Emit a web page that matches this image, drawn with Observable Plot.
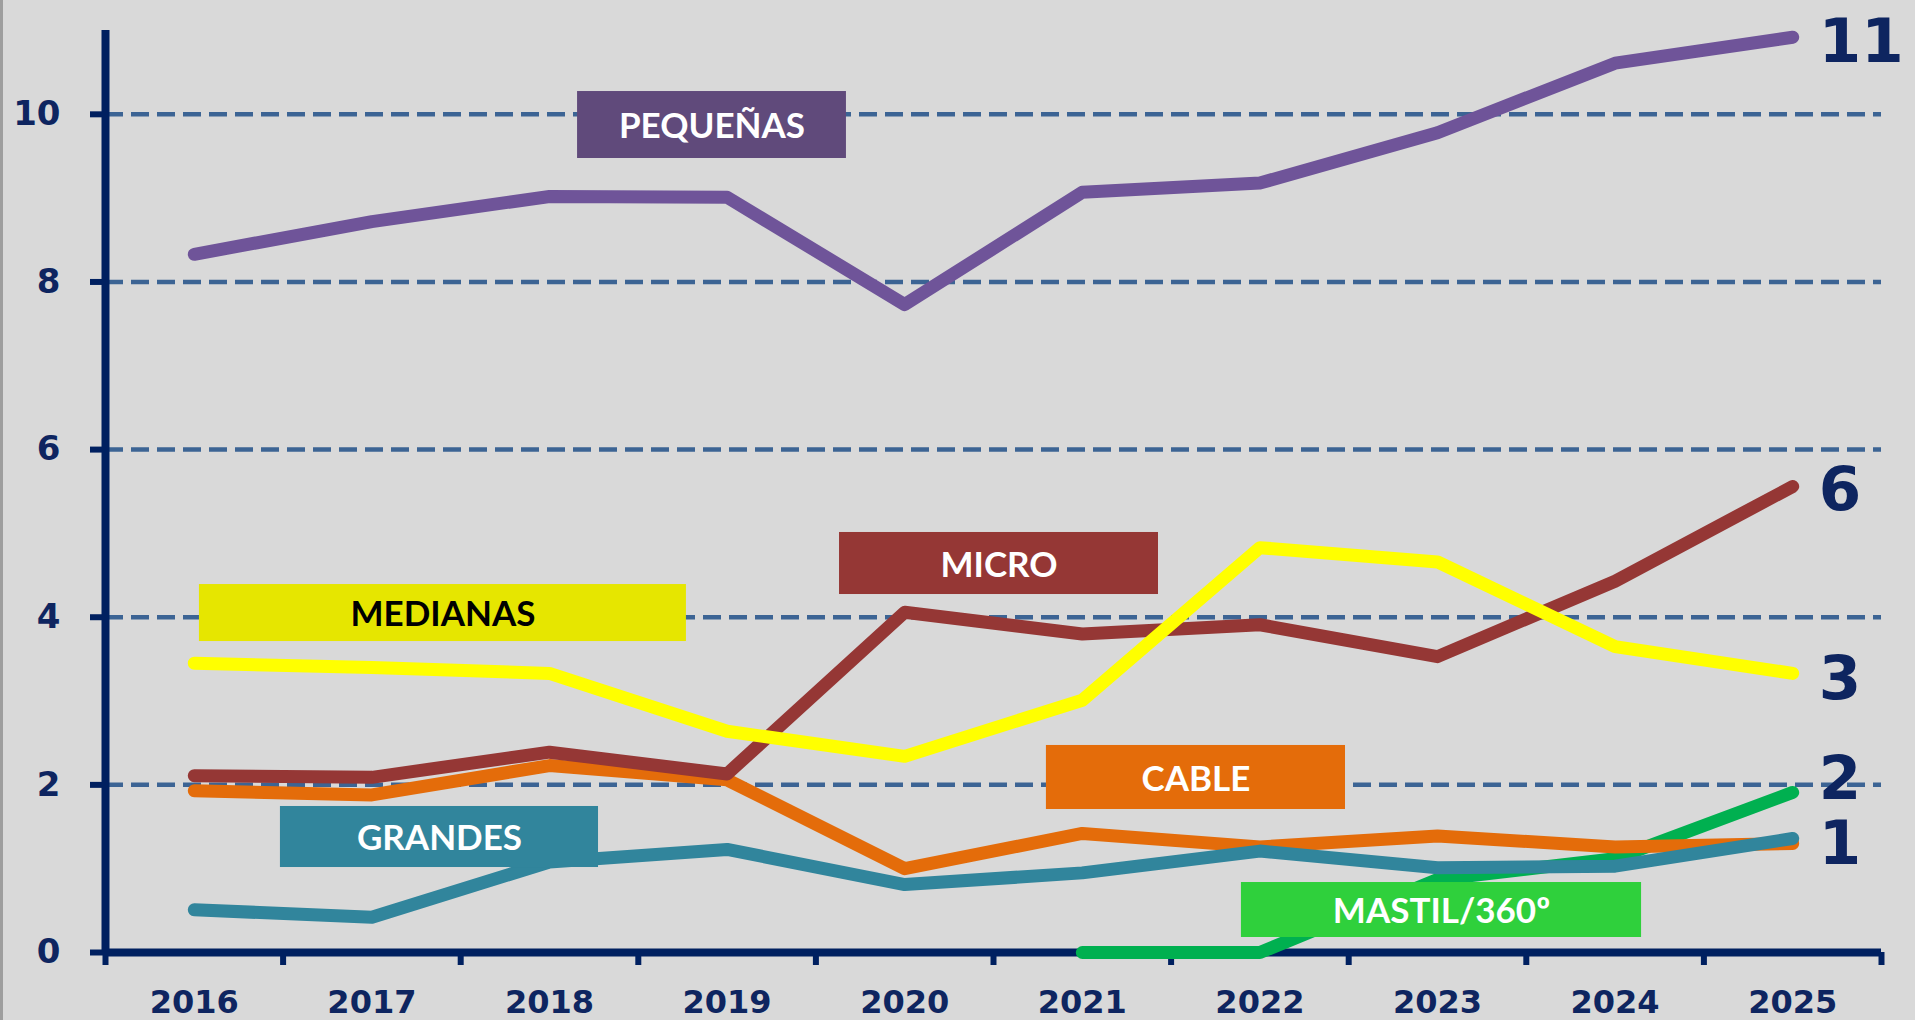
<!DOCTYPE html>
<html>
<head>
<meta charset="utf-8">
<script src="https://cdn.jsdelivr.net/npm/d3@7"></script>
<script src="https://cdn.jsdelivr.net/npm/@observablehq/plot@0.6"></script>
<style>
  html, body { margin: 0; padding: 0; background: #d9d9d9; overflow: hidden; }
  #chart { position: absolute; left: 0; top: 0; }
  #edge { position: absolute; left: 0; top: 0; width: 3px; height: 1020px; background: #9e9e9e; }
</style>
</head>
<body>
<div id="chart"></div>
<div id="edge"></div>
<script>
// ---- data ----
const years = [2016, 2017, 2018, 2019, 2020, 2021, 2022, 2023, 2024, 2025];
const yearLabels = ["2016", "2017", "2018", "2019", "2020", "2021", "2022", "2023", "2024", "2025"];
const yTicks = [0, 2, 4, 6, 8, 10];

const pequenas = [8.33, 8.72, 9.02, 9.01, 7.73, 9.07, 9.18, 9.78, 10.61, 10.92];
const micro    = [2.11, 2.09, 2.39, 2.13, 4.06, 3.80, 3.91, 3.53, 4.43, 5.56];
const medianas = [3.45, 3.40, 3.33, 2.64, 2.34, 3.01, 4.83, 4.66, 3.65, 3.33];
const cable    = [1.93, 1.88, 2.23, 2.06, 1.00, 1.42, 1.26, 1.39, 1.26, 1.30];
const grandes  = [0.51, 0.42, 1.08, 1.23, 0.81, 0.95, 1.21, 1.01, 1.03, 1.36];
const mastil   = [null, null, null, null, null, 0.00, 0.00, 0.87, 1.12, 1.91];

const seriesNames = ["MASTIL/360º", "CABLE", "GRANDES", "MICRO", "MEDIANAS", "PEQUEÑAS"];
const seriesValues = [mastil, cable, grandes, micro, medianas, pequenas];
const endValueLabels = ["2", "1", "1", "6", "3", "11"]; // rounded final values shown at right

// ---- styles / layout (not data) ----
const lineColors = {
  "MASTIL/360º": "#00b050", "CABLE": "#e46c0a", "GRANDES": "#31859c",
  "MICRO": "#953735", "MEDIANAS": "#ffff00", "PEQUEÑAS": "#6f5499"
};
const boxStyle = {
  "PEQUEÑAS":    {fill: "#604a7b", text: "#ffffff", x1: 2018.158, x2: 2019.672, y1: 10.272, y2: 9.473},
  "MICRO":       {fill: "#953735", text: "#ffffff", x1: 2019.633, x2: 2021.429, y1: 5.011, y2: 4.271},
  "MEDIANAS":    {fill: "#e6e600", text: "#000000", x1: 2016.029, x2: 2018.771, y1: 4.390, y2: 3.710},
  "CABLE":       {fill: "#e46c0a", text: "#ffffff", x1: 2020.798, x2: 2022.482, y1: 2.470, y2: 1.706},
  "GRANDES":     {fill: "#31859c", text: "#ffffff", x1: 2016.485, x2: 2018.276, y1: 1.742, y2: 1.014},
  "MASTIL/360º": {fill: "#2fd03c", text: "#ffffff", x1: 2021.896, x2: 2024.149, y1: 0.835, y2: 0.179}
};
// which series carry a right-hand value label, and its vertical nudge
const endLabelStyle = {
  "PEQUEÑAS": 5, "MICRO": 4, "MEDIANAS": 6, "MASTIL/360º": -13, "GRANDES": 6
};

const navy = "#002060";
const textNavy = "#0e2560";
const gridColor = "#3c6494";

// ---- build table ----
const rows = [];
seriesNames.forEach((name, i) => {
  seriesValues[i].forEach((v, j) => rows.push({series: name, year: years[j], value: v}));
});

const bounds = years.map(y => y - 0.5).concat([years[years.length - 1] + 0.5]);
const xDomain = [bounds[0], bounds[bounds.length - 1]];

const lineMarks = seriesNames.map(name =>
  Plot.lineY(rows.filter(r => r.series === name), {
    x: "year", y: "value", stroke: lineColors[name], strokeWidth: 13,
    strokeLinecap: "round", strokeLinejoin: "round"
  })
);

const boxMarks = seriesNames.flatMap(name => {
  const b = boxStyle[name];
  const d = [{label: name, ...b}];
  return [
    Plot.rect(d, {x1: "x1", x2: "x2", y1: "y1", y2: "y2", fill: b.fill}),
    Plot.text(d, {
      x: r => (r.x1 + r.x2) / 2, y: r => (r.y1 + r.y2) / 2, text: "label",
      fill: b.text, fontSize: 35, fontWeight: 700, fontFamily: "Lato, 'Open Sans', sans-serif",
      dy: 2
    })
  ];
});

const endMarks = seriesNames.filter(n => n in endLabelStyle).map(name => {
  const i = seriesNames.indexOf(name);
  const vals = seriesValues[i];
  const d = [{year: years[years.length - 1], value: vals[vals.length - 1], label: endValueLabels[i]}];
  return Plot.text(d, {
    x: "year", y: "value", text: "label", textAnchor: "start", dx: 26, dy: endLabelStyle[name],
    fill: textNavy, fontSize: 61, fontWeight: 700, fontFamily: "'DejaVu Sans', Verdana, sans-serif"
  });
});

const chart = Plot.plot({
  width: 1915,
  height: 1020,
  marginLeft: 105,
  marginRight: 34,
  marginTop: 30,
  marginBottom: 68,
  style: {background: "#d9d9d9", overflow: "visible"},
  x: {type: "linear", domain: xDomain},
  y: {domain: [0, 11]},
  marks: [
    Plot.ruleY(yTicks.filter(v => v > 0), {stroke: gridColor, strokeWidth: 4.5, strokeDasharray: "18,8"}),
    Plot.axisY({
      ticks: yTicks, tickSize: 15, tickPadding: 30, stroke: navy, strokeWidth: 6,
      fill: textNavy, fontSize: 34, fontWeight: 700, fontFamily: "'DejaVu Sans', Verdana, sans-serif",
      tickFormat: d => String(d)
    }),
    Plot.axisX({
      ticks: bounds, tickSize: 13, stroke: navy, strokeWidth: 6, tickFormat: () => ""
    }),
    Plot.axisX({
      ticks: years, tickSize: 0, tickPadding: 38, fill: textNavy, fontSize: 32, fontWeight: 700,
      fontFamily: "'DejaVu Sans', Verdana, sans-serif",
      tickFormat: d => yearLabels[years.indexOf(d)]
    }),
    Plot.ruleX([bounds[0]], {stroke: navy, strokeWidth: 8}),
    Plot.ruleY([0], {stroke: navy, strokeWidth: 8}),
    ...lineMarks,
    ...boxMarks,
    ...endMarks
  ]
});

document.getElementById("chart").appendChild(chart);
</script>
</body>
</html>
